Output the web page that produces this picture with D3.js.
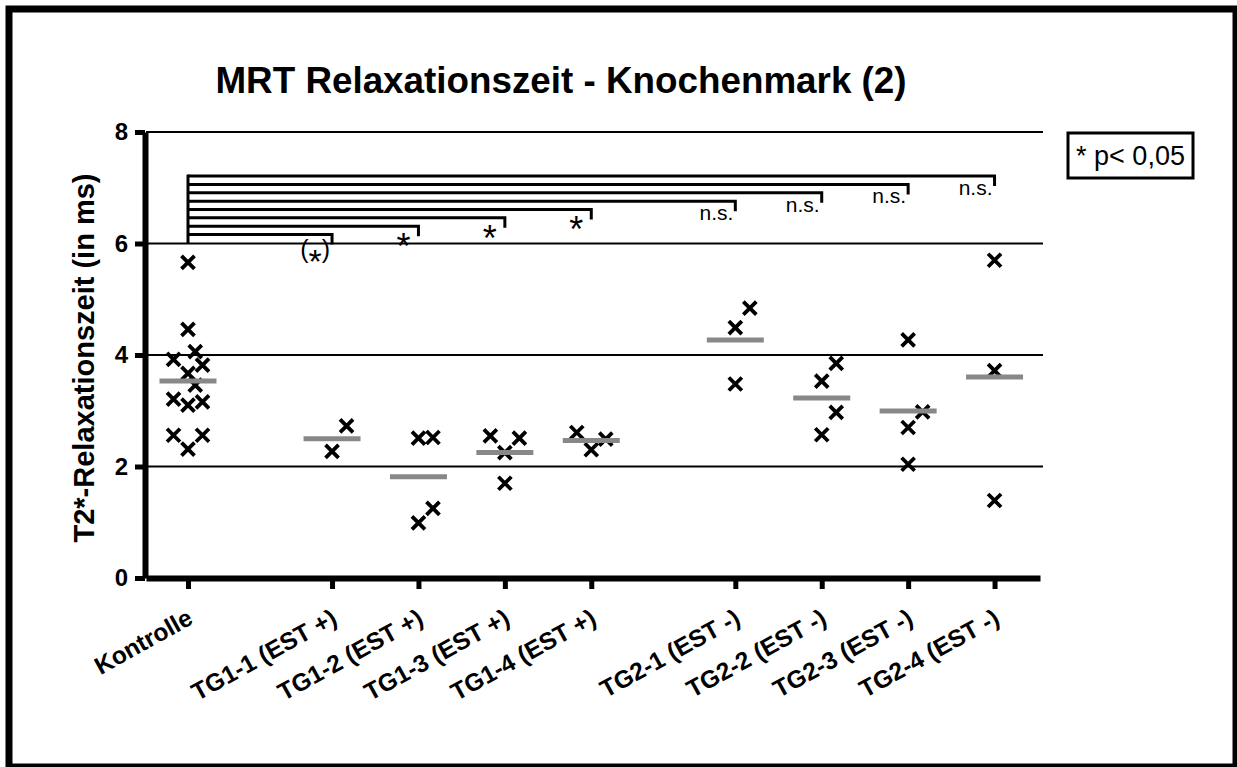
<!DOCTYPE html>
<html>
<head>
<meta charset="utf-8">
<script src="https://cdn.jsdelivr.net/npm/d3@7"></script>
<style>
  body { margin: 0; background: #fff; }
  text { font-family: "Liberation Sans", Arial, sans-serif; }
</style>
</head>
<body>
<div id="chart"></div>
<script>
var categories = ["Kontrolle", "TG1-1 (EST +)", "TG1-2 (EST +)", "TG1-3 (EST +)", "TG1-4 (EST +)",
    "TG2-1 (EST -)", "TG2-2 (EST -)", "TG2-3 (EST -)", "TG2-4 (EST -)"]
var groupOf = [0, 1, 1, 1, 1, 2, 2, 2, 2]

var kontrolle = [5.66, 4.46, 4.06, 3.92, 3.82, 3.67, 3.46, 3.21, 3.16, 3.10, 2.56, 2.56, 2.31]
var tg1_1 = [2.73, 2.27]
var tg1_2 = [2.52, 2.51, 1.25, 0.99]
var tg1_3 = [2.55, 2.51, 2.25, 1.70]
var tg1_4 = [2.61, 2.49, 2.30]
var tg2_1 = [4.84, 4.49, 3.48]
var tg2_2 = [3.85, 3.53, 2.97, 2.57]
var tg2_3 = [4.27, 2.98, 2.70, 2.04]
var tg2_4 = [5.70, 3.72, 1.39]
var values = [kontrolle, tg1_1, tg1_2, tg1_3, tg1_4, tg2_1, tg2_2, tg2_3, tg2_4]

// significance of each group vs Kontrolle
var sigLabels = ["(*)", "*", "*", "*", "n.s.", "n.s.", "n.s.", "n.s."]
var yTicks = [0, 2, 4, 6, 8]
var chartTitle = "MRT Relaxationszeit - Knochenmark (2)"
var yTitle = "T2*-Relaxationszeit (in ms)"
var legendLabel = "* p< 0,05"

var W = 1237, H = 767
var svg = d3.select("#chart").append("svg")
    .attr("width", W)
    .attr("height", H)

var groupGap = 0.667
function pos(i) { return i + groupOf[i] * groupGap }

var x = d3.scaleLinear().domain([-0.486, 9.86]).range([146, 1040])
var y = d3.scaleLinear().domain([0, 8]).range([578, 132])

// outer frame
svg.append("rect")
    .attr("x", 9).attr("y", 9)
    .attr("width", 1227).attr("height", 758)
    .attr("fill", "none").attr("stroke", "#000").attr("stroke-width", 7)

svg.append("text")
    .attr("x", 561).attr("y", 93)
    .attr("text-anchor", "middle")
    .attr("font-size", 36.8).attr("font-weight", "bold")
    .text(chartTitle)

// grid lines
svg.selectAll(".grid")
    .data(yTicks.filter(d => d > 0))
    .enter().append("line")
    .attr("x1", 146).attr("x2", 1043)
    .attr("y1", d => y(d)).attr("y2", d => y(d))
    .attr("stroke", "#000").attr("stroke-width", 2)

var yAxis = svg.append("g")
    .attr("transform", "translate(145,0)")
    .call(d3.axisLeft(y).tickValues(yTicks).tickSize(10).tickSizeOuter(0).tickPadding(7))
yAxis.select(".domain").attr("stroke-width", 6)
yAxis.selectAll(".tick line").attr("stroke-width", 5)
yAxis.selectAll(".tick text")
    .attr("font-size", 24).attr("font-weight", "bold")
    .attr("font-family", "Liberation Sans, Arial, sans-serif")

var xAxis = svg.append("g")
    .attr("transform", "translate(0,578)")
    .call(d3.axisBottom(x)
        .tickValues(categories.map((c, i) => pos(i)))
        .tickSize(11).tickSizeOuter(0)
        .tickFormat((d, i) => categories[i]))
xAxis.select(".domain").attr("stroke-width", 6)
xAxis.selectAll(".tick line").attr("stroke-width", 5)
xAxis.selectAll(".tick text")
    .attr("font-size", 24.5).attr("font-weight", "bold")
    .attr("font-family", "Liberation Sans, Arial, sans-serif")
    .attr("text-anchor", "end")
    .attr("x", 6).attr("y", 45).attr("dy", 0)
    .attr("transform", "rotate(-29 6 45)")

svg.append("text")
    .attr("transform", "translate(94,358) rotate(-90)")
    .attr("text-anchor", "middle")
    .attr("font-size", 29).attr("font-weight", "bold")
    .text(yTitle)

// column scatter: spread close points sideways
var slotW = 14.5, minGap = 28
function spread(vals) {
    var placed = []
    vals.slice().sort((a, b) => a - b).forEach(function (v) {
        var py = y(v)
        var slot = [0, 1, -1].find(s => !placed.some(p => p.slot === s && Math.abs(p.py - py) < minGap))
        if (slot === undefined) {
            var best = -Infinity
            ;[0.5, -0.5].forEach(function (s) {
                var d = d3.min(placed, p => Math.hypot((p.slot - s) * slotW, p.py - py))
                if (d > best) { best = d; slot = s }
            })
        }
        placed.push({ v: v, py: py, slot: slot })
    })
    return placed
}

var points = []
values.forEach(function (vals, i) {
    spread(vals).forEach(function (p) {
        points.push({ cx: x(pos(i)) + p.slot * slotW, cy: p.py })
    })
})

var s = 6.5
svg.selectAll(".pt")
    .data(points)
    .enter().append("path")
    .attr("d", `M${-s},${-s}L${s},${s}M${-s},${s}L${s},${-s}`)
    .attr("transform", d => `translate(${d.cx},${d.cy})`)
    .attr("stroke", "#000").attr("stroke-width", 3.8).attr("fill", "none")

// means
svg.selectAll(".mean")
    .data(values)
    .enter().append("line")
    .attr("x1", (d, i) => x(pos(i)) - 28.5)
    .attr("x2", (d, i) => x(pos(i)) + 28.5)
    .attr("y1", d => y(d3.mean(d)))
    .attr("y2", d => y(d3.mean(d)))
    .attr("stroke", "#888").attr("stroke-width", 5)

// comparison brackets
var x0 = x(pos(0))
var levels = sigLabels.map((l, i) => 6.16 + i * 0.15)
svg.append("line")
    .attr("x1", x0).attr("x2", x0)
    .attr("y1", y(d3.max(levels)) - 1.5).attr("y2", y(6))
    .attr("stroke", "#000").attr("stroke-width", 3)

sigLabels.forEach(function (lab, i) {
    var xt = x(pos(i + 1)), yl = y(levels[i])
    svg.append("path")
        .attr("d", `M${x0},${yl}H${xt}V${yl + 10}`)
        .attr("fill", "none").attr("stroke", "#000").attr("stroke-width", 3)

    if (lab === "n.s.") {
        svg.append("text")
            .attr("x", xt - 2).attr("y", yl + 19)
            .attr("text-anchor", "end").attr("font-size", 21)
            .text(lab)
    } else if (lab === "*") {
        svg.append("text")
            .attr("x", xt - 15).attr("y", yl + 33)
            .attr("text-anchor", "middle").attr("font-size", 36)
            .text(lab)
    } else {
        var t = svg.append("text")
            .attr("x", xt - 2).attr("y", yl + 23)
            .attr("text-anchor", "end").attr("font-size", 25)
        t.append("tspan").text("(")
        t.append("tspan").attr("font-size", 34).attr("dy", 15).text("*")
        t.append("tspan").attr("dy", -15).text(")")
    }
})

// legend
svg.append("rect")
    .attr("x", 1068).attr("y", 133)
    .attr("width", 125).attr("height", 45)
    .attr("fill", "#fff").attr("stroke", "#000").attr("stroke-width", 3)
svg.append("text")
    .attr("x", 1130.5).attr("y", 165)
    .attr("text-anchor", "middle").attr("font-size", 27)
    .text(legendLabel)
</script>
</body>
</html>
